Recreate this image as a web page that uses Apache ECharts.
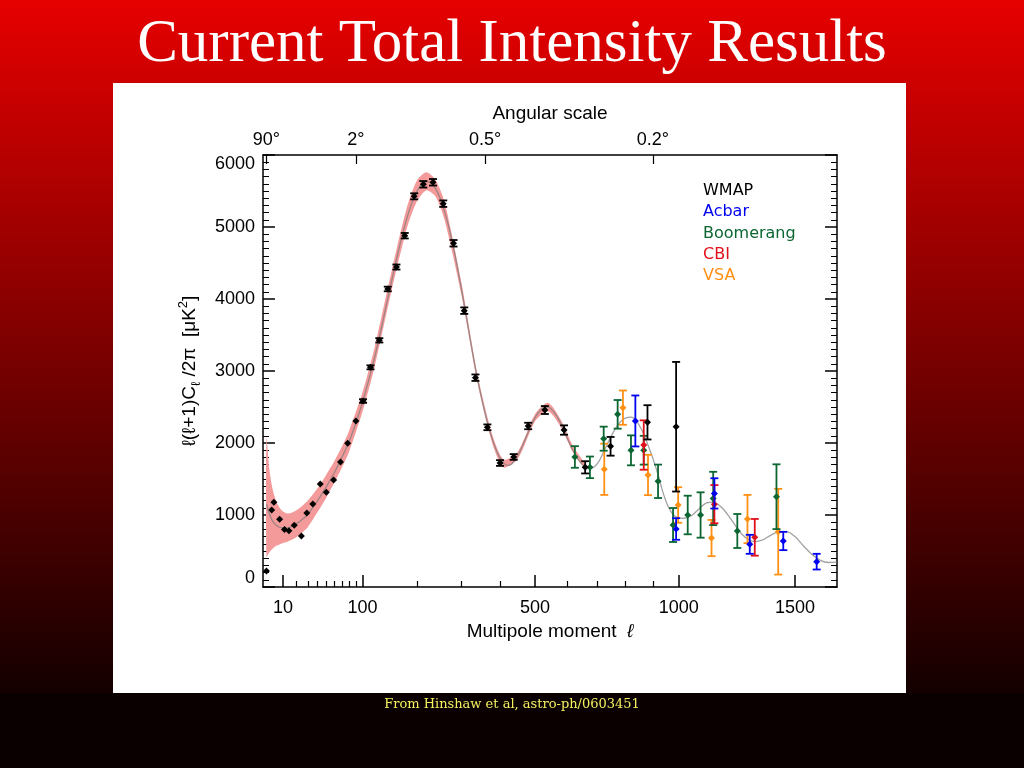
<!DOCTYPE html>
<html><head><meta charset="utf-8">
<script src="https://cdn.jsdelivr.net/npm/echarts@6.0.0/dist/echarts.min.js"></script>
<style>html,body{margin:0;padding:0;background:#000}#c{width:1024px;height:768px}</style>
</head><body><div id="c"></div>
<script>
// ---------- axis scale (plot uses x proportional to l^0.6) ----------
const EXP = 0.6;
const sx = l => Math.pow(l, EXP);
const X_MIN_L = 1, X_MAX_L = 1700;

// ---------- tick labels ----------
const xMajorL = [10, 100, 500, 1000, 1500];
const xMinorL = [20, 30, 40, 50, 60, 70, 80, 90, 200, 300, 400, 600, 700, 800, 900];
const angTickL = [2, 90, 360, 900];
const angLabels = ['90°', '2°', '0.5°', '0.2°'];
const yTicks = [0, 1000, 2000, 3000, 4000, 5000, 6000];

// ---------- best-fit model curve ----------
const modelL = [2,3,4,5,6,8,10,13,16,20,25,30,40,50,60,70,80,90,100,110,120,130,140,150,160,170,180,190,200,210,220,230,240,250,260,270,280,290,300,310,320,330,340,350,360,370,380,390,400,410,420,430,440,450,460,470,480,490,500,510,520,530,540,550,560,570,580,590,600,615,630,645,660,675,690,705,720,740,760,780,800,820,840,860,880,900,920,940,960,980,1000,1020,1050,1080,1110,1140,1170,1200,1230,1260,1290,1320,1350,1390,1430,1460,1500,1540,1580,1620,1660,1700];
const modelD = [1150,1020,940,890,860,830,820,820,840,880,940,1010,1200,1390,1590,1800,2020,2280,2560,2870,3190,3540,3900,4250,4580,4880,5140,5350,5500,5590,5630,5610,5530,5400,5220,5000,4740,4450,4140,3820,3500,3190,2900,2640,2410,2210,2040,1900,1790,1720,1690,1700,1750,1830,1930,2040,2150,2260,2350,2420,2470,2500,2500,2470,2420,2350,2270,2170,2070,1930,1810,1720,1670,1650,1670,1740,1860,2030,2180,2290,2350,2360,2300,2170,1990,1790,1560,1300,1110,1000,960,955,990,1080,1165,1180,1120,1010,870,740,660,630,650,720,770,770,700,570,450,370,340,345];

// ---------- cosmic-variance band ----------
const bandL  = [2,3,4,5,6,8,10,13,16,20,25,30,40,50,60,70,80,100,120,150,180,200,220,240,260,300,340,380,410,450,500,540,580,620,660];
const bandLo = [420,480,520,550,570,590,610,630,655,695,760,830,1040,1240,1450,1660,1880,2430,3060,4120,5000,5360,5510,5420,5100,4060,2840,1980,1660,1780,2300,2440,2220,1860,1640];
const bandHi = [2080,1650,1420,1290,1200,1100,1050,1020,1030,1070,1130,1200,1370,1560,1750,1950,2170,2700,3330,4390,5290,5650,5760,5650,5350,4230,2960,2100,1770,1880,2400,2560,2320,1950,1700];

// ---------- data sets ----------
const wmapL = [2,4,5,8,11,14,18,24,29,35,43,50,59,68,78,90,101,113,128,143,159,175,194,213,234,257,281,307,335,366,400,438,480,530,590,659,746,880,990];
const wmapV = [222,1070,1176,940,800,782,857,708,1028,1153,1431,1315,1486,1736,1995,2305,2583,3051,3426,4139,4444,4879,5426,5593,5621,5324,4774,3838,2907,2218,1722,1806,2236,2458,2180,1662,1954,2287,2226];
const wmapE = [0,0,0,0,0,0,0,0,0,0,0,0,0,0,0,0,25,28,30,32,35,38,42,45,45,45,45,45,45,40,40,40,45,55,65,85,130,238,900];

const acbarL = [835,990,1145,1296,1446,1602];
const acbarV = [2306,806,1300,593,639,352];
const acbarE = [354,150,210,132,127,109];

const boomL = [625,675,722,771,819,866,920,978,1036,1088,1140,1242,1415];
const boomV = [1806,1662,2060,2398,1898,1900,1468,861,1000,1000,1230,778,1254];
const boomE = [150,150,167,199,208,200,232,236,268,315,370,236,450];

const cbiL = [866,1145,1318];
const cbiV = [1972,1150,690];
const cbiE = [343,265,255];

const vsaL = [724,790,882,998,1133,1286,1423];
const vsaV = [1635,2491,1556,1139,680,944,768];
const vsaE = [356,238,280,247,252,335,595];

const legendNames = ['WMAP', 'Acbar', 'Boomerang', 'CBI', 'VSA'];
const colors = {WMAP:'#000000', Acbar:'#0000f0', Boomerang:'#0b6632', CBI:'#e0101a', VSA:'#ff9014'};

// ---------- helpers ----------
const pack = (L, V, E) => L.map((l, i) => [sx(l), V[i], E ? E[i] : 0]);

function errRender(color, lw) {
  return function (params, api) {
    const x = api.value(0), y = api.value(1), e = api.value(2);
    const c = api.coord([x, y]);
    const kids = [];
    if (e > 0) {
      const t = api.coord([x, y + e]), b = api.coord([x, y - e]);
      kids.push({type:'line', shape:{x1:c[0], y1:t[1], x2:c[0], y2:b[1]}, style:{stroke:color, lineWidth:lw}});
      kids.push({type:'line', shape:{x1:c[0]-4, y1:t[1], x2:c[0]+4, y2:t[1]}, style:{stroke:color, lineWidth:lw}});
      kids.push({type:'line', shape:{x1:c[0]-4, y1:b[1], x2:c[0]+4, y2:b[1]}, style:{stroke:color, lineWidth:lw}});
    }
    kids.push({type:'polygon', shape:{points:[[c[0], c[1]-3.5],[c[0]+3.5, c[1]],[c[0], c[1]+3.5],[c[0]-3.5, c[1]]]}, style:{fill:color}});
    return {type:'group', children:kids};
  };
}
function errSeries(name, L, V, E, lw, z) {
  return {name, type:'custom', data:pack(L, V, E), encode:{x:0, y:1}, renderItem:errRender(colors[name], lw), z, xAxisIndex:0, yAxisIndex:0};
}

const AX = {color:'#000', width:1.5};
const labelFont = {color:'#000', fontFamily:'Liberation Sans, Arial, sans-serif', fontSize:18};

const chart = echarts.init(document.getElementById('c'), null, {renderer:'canvas'});
chart.setOption({
  animation:false,
  backgroundColor:{type:'linear', x:0, y:0, x2:0, y2:1, colorStops:[{offset:0, color:'#e60000'},{offset:0.9, color:'#140000'},{offset:1, color:'#080000'}]},
  grid:{left:263, right:187, top:155, bottom:181, show:false},
  graphic:[
    {type:'rect', z:-100, silent:true, shape:{x:0, y:693, width:1024, height:75}, style:{fill:'#0a0000'}},
    {type:'rect', z:-100, silent:true, shape:{x:113, y:83, width:793, height:610}, style:{fill:'#ffffff'}},
    {type:'text', z:100, left:'center', top:14, style:{text:'Current Total Intensity Results', fill:'#ffffff', font:'61px "Liberation Serif", "Times New Roman", serif'}},
    {type:'text', z:100, left:'center', top:698, style:{text:'From Hinshaw et al, astro-ph/0603451', fill:'#f4f060', font:'13px "DejaVu Serif", serif'}},
    ...legendNames.map((n, i) => ({type:'text', z:100, x:703, y:191 + i*21.3, style:{text:n, fill:colors[n], font:'16px "DejaVu Sans", sans-serif', verticalAlign:'middle'}}))
  ],
  xAxis:[
    {type:'value', position:'bottom', min:sx(X_MIN_L), max:sx(X_MAX_L),
     axisLine:{show:true, lineStyle:AX},
     axisTick:{show:true, inside:true, length:12, lineStyle:AX, customValues:xMajorL.map(sx)},
     axisLabel:{show:true, margin:12, customValues:xMajorL.map(sx), ...labelFont,
       formatter:v => { const i = xMajorL.findIndex(l => Math.abs(sx(l) - v) < 1e-6); return i >= 0 ? String(xMajorL[i]) : ''; }},
     splitLine:{show:false},
     name:'{a|Multipole moment  }{i|ℓ}', nameLocation:'middle', nameGap:35,
     nameTextStyle:{rich:{a:{...labelFont, fontSize:19}, i:{...labelFont, fontSize:19, fontStyle:'italic'}}}},
    {type:'value', position:'bottom', min:sx(X_MIN_L), max:sx(X_MAX_L),
     axisLine:{show:false},
     axisTick:{show:true, inside:true, length:6, lineStyle:{color:'#000', width:1.2}, customValues:xMinorL.map(sx)},
     axisLabel:{show:false}, splitLine:{show:false}},
    {type:'value', position:'top', min:sx(X_MIN_L), max:sx(X_MAX_L),
     axisLine:{show:true, lineStyle:AX},
     axisTick:{show:true, inside:true, length:9, lineStyle:{color:'#000', width:1.2}, customValues:angTickL.map(sx)},
     axisLabel:{show:true, margin:6, customValues:angTickL.map(sx), ...labelFont,
       formatter:v => { const i = angTickL.findIndex(l => Math.abs(sx(l) - v) < 1e-6); return i >= 0 ? angLabels[i] : ''; }},
     splitLine:{show:false},
     name:'Angular scale', nameLocation:'middle', nameGap:32, nameTextStyle:{...labelFont, fontSize:19}}
  ],
  yAxis:[
    {type:'value', position:'left', min:0, max:6000, interval:1000,
     axisLine:{show:true, lineStyle:AX},
     axisTick:{show:true, inside:true, length:12, lineStyle:AX},
     minorTick:{show:true, splitNumber:10, length:6, lineStyle:{color:'#000', width:1}},
     axisLabel:{margin:8, ...labelFont, verticalAlignMinLabel:'bottom', verticalAlignMaxLabel:'top',
       formatter:v => String(v)},
     splitLine:{show:false},
     name:'{a|ℓ(ℓ+1)C}{s|ℓ}{a| /2π  [μK}{p|2}{a|]}', nameLocation:'middle', nameRotate:90, nameGap:60,
     nameTextStyle:{rich:{
       a:{...labelFont, fontSize:19, lineHeight:26},
       s:{...labelFont, fontSize:13, lineHeight:12, verticalAlign:'bottom'},
       p:{...labelFont, fontSize:13, lineHeight:12, verticalAlign:'top'}}}},
    {type:'value', position:'right', min:0, max:6000, interval:1000,
     axisLine:{show:true, lineStyle:AX},
     axisTick:{show:true, inside:true, length:12, lineStyle:AX},
     minorTick:{show:true, splitNumber:10, length:6, lineStyle:{color:'#000', width:1}},
     axisLabel:{show:false}, splitLine:{show:false}}
  ],
  series:[
    {name:'band', type:'custom', data:[[sx(bandL[0]), bandLo[0]]], encode:{x:0, y:1}, z:1, silent:true,
     renderItem:(params, api) => {
       const up = bandL.map((l, i) => api.coord([sx(l), bandHi[i]]));
       const dn = bandL.map((l, i) => api.coord([sx(l), bandLo[i]])).reverse();
       return {type:'polygon', shape:{points:up.concat(dn), smooth:0.25}, style:{fill:'#f49a9a'}};
     }},
    {name:'model', type:'line', data:modelL.map((l, i) => [sx(l), modelD[i]]), smooth:0.35, symbol:'none', z:2,
     lineStyle:{color:'#7a7a7a', width:1.3, opacity:0.7}},
    errSeries('VSA', vsaL, vsaV, vsaE, 1.8, 3),
    errSeries('Boomerang', boomL, boomV, boomE, 1.8, 4),
    errSeries('CBI', cbiL, cbiV, cbiE, 1.8, 5),
    errSeries('Acbar', acbarL, acbarV, acbarE, 1.8, 6),
    errSeries('WMAP', wmapL, wmapV, wmapE, 1.8, 7)
  ]
});
</script></body></html>
